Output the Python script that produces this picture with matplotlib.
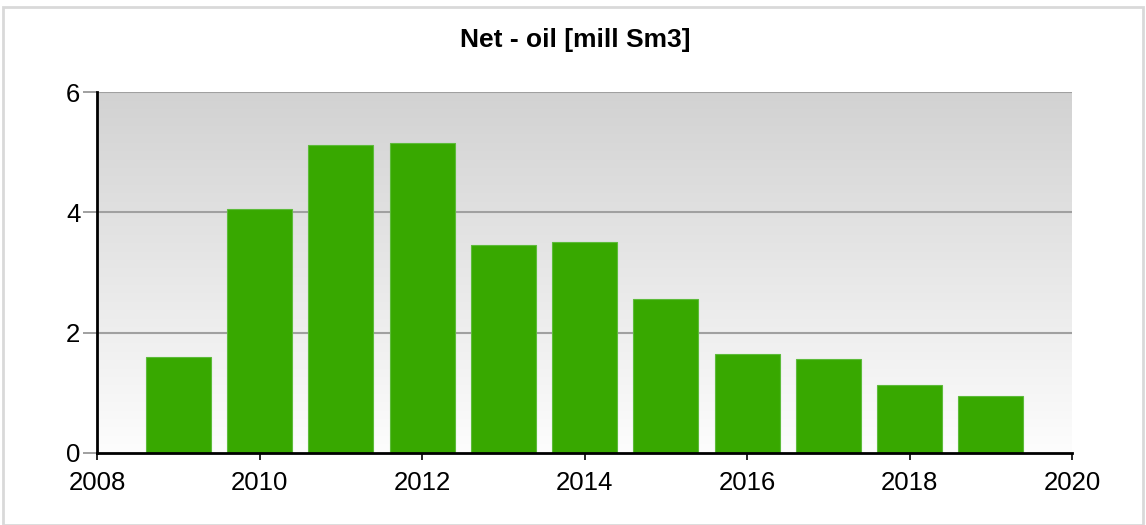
import matplotlib.pyplot as plt
import numpy as np
from matplotlib.patches import Rectangle

plt.rcParams['font.family'] = ['Liberation Sans', 'DejaVu Sans']

years = [2009, 2010, 2011, 2012, 2013, 2014, 2015, 2016, 2017, 2018, 2019]
net_oil = [1.59, 4.05, 5.12, 5.15, 3.46, 3.51, 2.56, 1.64, 1.57, 1.13, 0.94]
xticks = [2008, 2010, 2012, 2014, 2016, 2018, 2020]
yticks = [0, 2, 4, 6]

fig = plt.figure(figsize=(11.46, 5.25), dpi=100)
ax = fig.add_axes([97 / 1146, 72 / 525, 975 / 1146, 361 / 525])

# frame round the figure
fig.patches.append(Rectangle((3 / 1146, 0), 1 - 6 / 1146, 1 - 7 / 525, transform=fig.transFigure,
                             fill=False, edgecolor='#d9d9d9', linewidth=2))

# grey to white gradient background
grad = np.linspace(0, 1, 256).reshape(-1, 1)
ax.imshow(grad, cmap=plt.matplotlib.colors.LinearSegmentedColormap.from_list('bg', ['#d2d2d2', '#fdfdfd']),
          extent=[0, 1, 0, 1], transform=ax.transAxes, aspect='auto', zorder=0)

for y in yticks[1:]:
    ax.axhline(y, color='#a0a0a0', linewidth=1.5, zorder=1)

ax.bar(years, net_oil, width=0.8, color='#38a800', edgecolor='#5dbb3a', linewidth=0.8, zorder=2)

ax.set_xlim(2008, 2020)
ax.set_ylim(0, 6)
ax.set_xticks(xticks)
ax.set_yticks(yticks)
ax.tick_params(axis='x', labelsize=18.5, length=5, width=1.2, color='black', pad=8)
ax.tick_params(axis='y', labelsize=18.5, length=10, width=1.2, color='#909090', pad=2)

for s in ['top', 'right']:
    ax.spines[s].set_visible(False)
ax.spines['left'].set_linewidth(2)
ax.spines['bottom'].set_linewidth(2)
ax.spines['left'].set_zorder(3)
ax.spines['bottom'].set_zorder(3)

fig.text(575 / 1146, 1 - 40 / 525, 'Net - oil [mill Sm3]', ha='center', va='center',
         fontsize=19, fontweight='bold')

fig.savefig('out.png', dpi=100)
